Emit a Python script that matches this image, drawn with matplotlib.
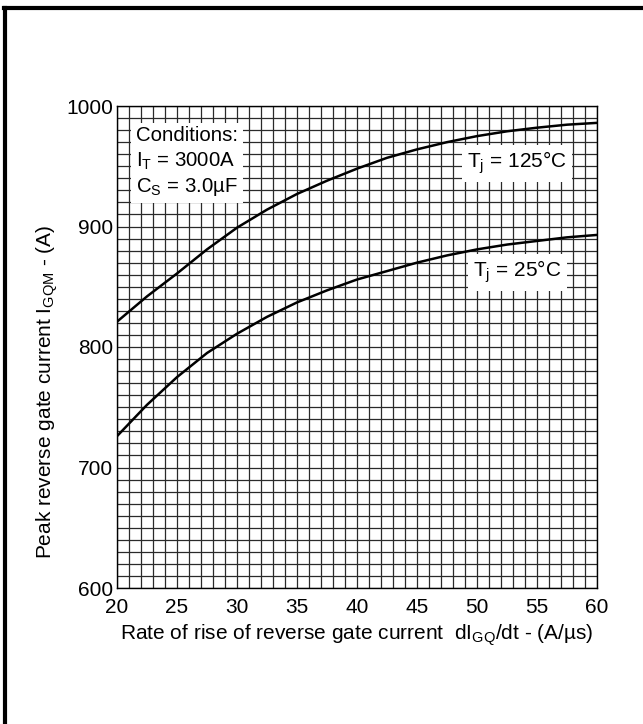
import matplotlib
matplotlib.use("Agg")
import matplotlib.pyplot as plt
from matplotlib.ticker import MultipleLocator
from matplotlib.lines import Line2D

plt.rcParams['font.family'] = ['Liberation Sans', 'DejaVu Sans']
plt.rcParams['mathtext.fontset'] = 'custom'
plt.rcParams['mathtext.rm'] = 'Liberation Sans'
plt.rcParams['mathtext.it'] = 'Liberation Sans'
plt.rcParams['mathtext.default'] = 'regular'

# dIGQ/dt (A/us) and peak reverse gate current IGQM (A)
didt = [20, 22.5, 25, 27.5, 30, 32.5, 35, 37.5, 40, 42.5, 45, 47.5, 50, 52.5, 55, 57.5, 60]
igqm_125 = [821, 842, 861, 881, 899, 914, 927, 938, 948, 957, 964, 970, 975, 979, 982, 984.5, 986]
igqm_25 = [726, 752, 775, 795, 811, 825, 837, 847, 856, 863, 870, 876, 881, 885, 888, 891, 893]

xticks = [20, 25, 30, 35, 40, 45, 50, 55, 60]
yticks = [600, 700, 800, 900, 1000]

W, H = 643, 724
fig = plt.figure(figsize=(W / 100, H / 100), dpi=100)
ax = fig.add_axes([117 / W, 1 - 588 / H, 480 / W, 482 / H])

ax.plot(didt, igqm_125, color='black', lw=1.8, zorder=4)
ax.plot(didt, igqm_25, color='black', lw=1.8, zorder=4)

ax.set_xlim(20, 60)
ax.set_ylim(600, 1000)
ax.set_xticks(xticks)
ax.set_yticks(yticks)
ax.xaxis.set_minor_locator(MultipleLocator(1))
ax.yaxis.set_minor_locator(MultipleLocator(10))
ax.grid(which='both', color='#2a2a2a', lw=0.9)
ax.set_axisbelow(True)
ax.tick_params(which='both', length=0, labelsize=15)
ax.tick_params(axis='x', pad=7)
ax.tick_params(axis='y', pad=3)
for s in ax.spines.values():
    s.set_color('black')
    s.set_linewidth(1.0)

ax.set_xlabel(r'Rate of rise of reverse gate current  dI$_{GQ}$/dt - (A/µs)', fontsize=15, labelpad=4)
ax.set_ylabel(r'Peak reverse gate current I$_{GQM}$ - (A)', fontsize=15)
ax.yaxis.set_label_coords(-0.119, 0.407)

box = dict(boxstyle='square,pad=0.25', facecolor='white', edgecolor='none')
ax.text(21.6, 983, 'Conditions:\nI$_T$ = 3000A\nC$_S$ = 3.0µF', fontsize=14.7,
        va='top', ha='left', linespacing=1.3, bbox=box, zorder=3)
ax.text(49.2, 948.5, 'T$_j$ = 125°C', fontsize=15, va='baseline', ha='left',
        bbox=box, zorder=3)
ax.text(49.7, 858, 'T$_j$ = 25°C', fontsize=15, va='baseline', ha='left',
        bbox=box, zorder=3)

# page frame along top and left edges
fig.add_artist(Line2D([4 / W, 1], [1 - 8 / H, 1 - 8 / H], color='black', lw=3, solid_capstyle='projecting'))
fig.add_artist(Line2D([4.5 / W, 4.5 / W], [0, 1 - 8 / H], color='black', lw=3))

fig.savefig('out.png', dpi=100)
